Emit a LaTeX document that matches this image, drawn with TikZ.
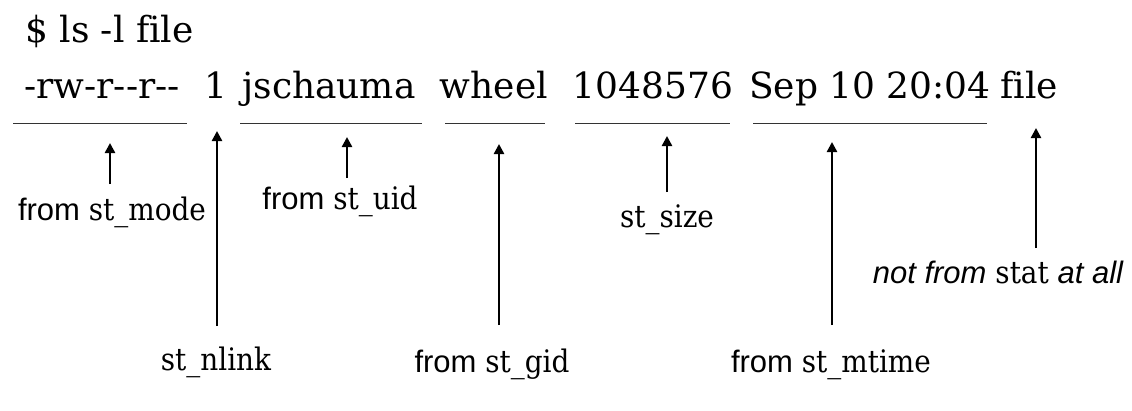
\documentclass[tikz,border=0pt]{standalone}
\usepackage{fontspec}
\setmainfont[Ligatures=NoCommon]{DejaVu Serif}
\newfontfamily\lsans{Liberation Sans}
\newfontfamily\lserif[FakeStretch=0.9]{DejaVu Serif}
\usetikzlibrary{arrows.meta}
\tikzset{
  field/.style={inner sep=0pt, anchor=base, font=\fontsize{36}{42}\selectfont},
  lbl/.style={inner sep=0pt, anchor=base, font=\lserif\fontsize{31}{37}\selectfont},
  uline/.style={line width=1.5pt, draw=black!80},
  arr/.style={line width=2.4pt, -{Triangle[length=10pt,width=10pt]}},
}
\begin{document}
\begin{tikzpicture}[x=1pt,y=-1pt]
\useasboundingbox (0,0) rectangle (1132,410);
% command line
\node[field, anchor=base west] (cmd) at (25,42) {\$ ls -l file};
% ls output fields
\node[field] (fmode) at (102,98) {-rw-r-{}-r-{}-};
\node[field] (fnlink) at (216,98) {1};
\node[field] (fuid) at (329,98) {jschauma};
\node[field] (fgid) at (494,98) {wheel};
\node[field] (fsize) at (653,98) {1048576};
\node[field] (fmtime) at (870,98) {Sep 10 20:04};
\node[field] (ffile) at (1029,98) {file};
% underlines
\coordinate (u1a) at (13,123.5);  \coordinate (u1b) at (187,123.5);
\coordinate (u2a) at (240,123.5); \coordinate (u2b) at (422,123.5);
\coordinate (u3a) at (445,123.5); \coordinate (u3b) at (545,123.5);
\coordinate (u4a) at (575,123.5); \coordinate (u4b) at (730,123.5);
\coordinate (u5a) at (753,123.5); \coordinate (u5b) at (987,123.5);
\draw[uline] (u1a) -- (u1b);
\draw[uline] (u2a) -- (u2b);
\draw[uline] (u3a) -- (u3b);
\draw[uline] (u4a) -- (u4b);
\draw[uline] (u5a) -- (u5b);
% labels
\node[lbl] (lmode) at (112,220) {{\lsans from} st\_mode};
\node[lbl] (lnlink) at (216,370) {st\_nlink};
\node[lbl] (luid) at (340,209) {{\lsans from} st\_uid};
\node[lbl] (lgid) at (492,372) {{\lsans from} st\_gid};
\node[lbl] (lsize) at (667,227) {st\_size};
\node[lbl] (lmtime) at (831,372) {{\lsans from} st\_mtime};
\node[lbl] (lfile) at (998,283) {{\lsans\itshape not from} stat {\lsans\itshape at all}};
% arrows
\coordinate (amode0) at (110,184);  \coordinate (amode1) at (110,143);
\coordinate (anlink0) at (217,326); \coordinate (anlink1) at (217,131);
\coordinate (auid0) at (347,178);   \coordinate (auid1) at (347,137);
\coordinate (agid0) at (499,325);   \coordinate (agid1) at (499,144);
\coordinate (asize0) at (667,192);  \coordinate (asize1) at (667,136);
\coordinate (amtime0) at (832,325); \coordinate (amtime1) at (832,142);
\coordinate (afile0) at (1036,248); \coordinate (afile1) at (1036,128);
\draw[arr] (amode0) -- (amode1);
\draw[arr] (anlink0) -- (anlink1);
\draw[arr] (auid0) -- (auid1);
\draw[arr] (agid0) -- (agid1);
\draw[arr] (asize0) -- (asize1);
\draw[arr] (amtime0) -- (amtime1);
\draw[arr] (afile0) -- (afile1);
\end{tikzpicture}
\end{document}
